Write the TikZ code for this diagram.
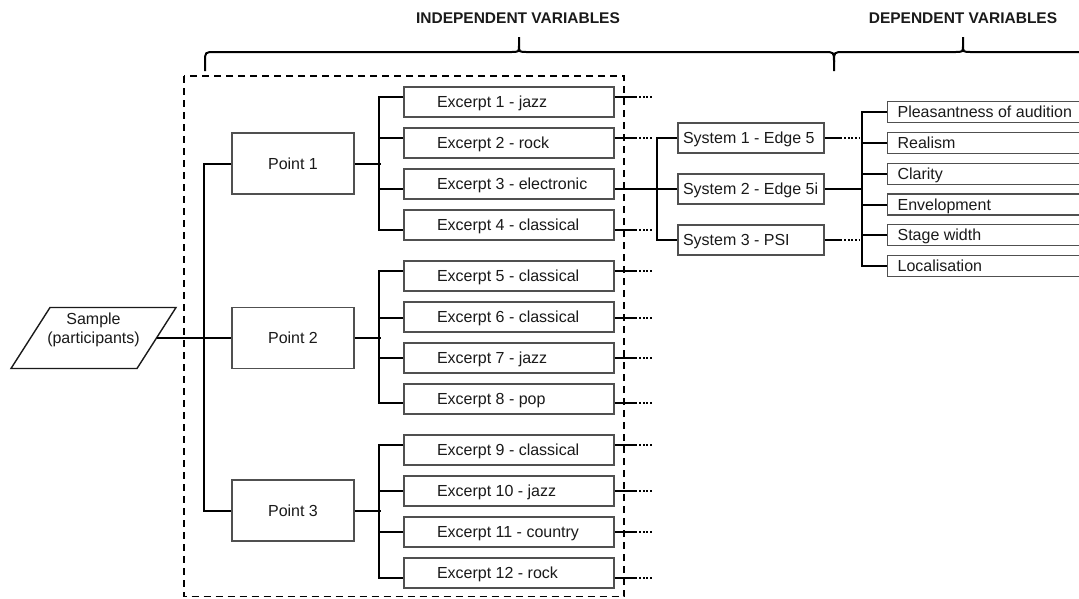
\documentclass[tikz,border=0pt]{standalone}
\usepackage{fontspec}
\setmainfont{Liberation Sans}
\usetikzlibrary{calc}
\definecolor{ink}{HTML}{1A1A1A}
\definecolor{edge}{HTML}{505050}
% left-aligned label of fixed width with a left indent
\newcommand{\padl}[3]{\makebox[#1][l]{\hspace{#2}#3}}
\begin{document}
\begin{tikzpicture}[x=1pt,y=-1pt,
  box/.style={draw=edge, line width=1.2pt, fill=white, text=ink, inner sep=0pt,
    font=\fontsize{16}{19}\selectfont, text height=11.5pt, text depth=0pt},
  exbox/.style={box, minimum width=210pt, minimum height=30pt},
  ptbox/.style={box, minimum width=122pt, minimum height=61pt},
  sysbox/.style={box, minimum width=146pt, minimum height=30pt},
  depbox/.style={box, minimum height=21pt, anchor=west},
  conn/.style={line width=2pt, black},
  dots/.style={line width=1.8pt, black, dash pattern=on 1.8pt off 1.8pt},
  frame/.style={line width=1.7pt, black, dash pattern=on 7pt off 5pt},
  brace/.style={line width=2pt, black, line cap=butt},
  title/.style={font=\fontsize{15.5}{18}\selectfont\bfseries, text=ink, anchor=base}
]
\useasboundingbox (0,0) rectangle (1079,598);

% headings and braces
\node[title] (ti) at (518,23) {INDEPENDENT VARIABLES};
\node[title] (td) at (963,23) {DEPENDENT VARIABLES};
\draw[brace] (205,71) -- (205,62) .. controls (205,52) .. (215,52) -- (511,52)
  .. controls (519,52) .. (519,45) -- (519,37)
  (519,45) .. controls (519,52) .. (527,52) -- (824,52)
  .. controls (834,52) .. (834,62) -- (834,71);
\draw[brace] (834,62) .. controls (834,52) .. (844,52) -- (955,52)
  .. controls (963,52) .. (963,45) -- (963,37)
  (963,45) .. controls (963,52) .. (971,52) -- (1090,52);

% dashed frame round the independent variables
\draw[frame] (184,76) rectangle (624,596.5);

% sample: parallelogram with its label
\draw[draw=ink, line width=1.4pt, fill=white, line join=miter]
  (11,368.5) -- (50,307.5) -- (176,307.5) -- (137,368.5) -- cycle;
\node[text=ink, inner sep=0pt, align=center, font=\fontsize{16}{19}\selectfont,
  text height=11.5pt, text depth=0pt] (sample) at (93.5,338) {Sample\\(participants)};
\coordinate (sampleout) at (156.5,338);

% points
\node[ptbox] (p1) at (293,163.5) {Point 1};
\node[ptbox] (p2) at (293,338) {Point 2};
\node[ptbox] (p3) at (293,510.5) {Point 3};

% excerpts: index / centre y / label / offset of the connector line
\foreach \i/\y/\t/\o in {1/102/jazz/-5, 2/143/rock/-5, 3/184/electronic/5, 4/225/classical/5,
  5/276/classical/-5, 6/317/classical/1, 7/358/jazz/0, 8/399/pop/4,
  9/450/classical/-5, 10/491/jazz/0, 11/532/country/0, 12/573/rock/5} {
  \node[exbox] (e\i) at (509,\y) {\padl{210pt}{33pt}{Excerpt \i\ - \t}};
  \coordinate (a\i) at ($(e\i.west)+(0,\o)$);
  \coordinate (b\i) at ($(e\i.east)+(0,\o)$);
}

% systems
\node[sysbox] (s1) at (751,138) {\padl{146pt}{5pt}{System 1 - Edge 5}};
\node[sysbox] (s2) at (751,189) {\padl{146pt}{5pt}{System 2 - Edge 5i}};
\node[sysbox] (s3) at (751,240) {\padl{146pt}{5pt}{System 3 - PSI}};

% dependent variables
\node[depbox] (v1) at (887,112) {\padl{200pt}{10pt}{Pleasantness of audition}};
\node[depbox] (v2) at (887,143) {\padl{200pt}{10pt}{Realism}};
\node[depbox] (v3) at (887,174) {\padl{200pt}{10pt}{Clarity}};
\node[depbox] (v4) at (887,204.5) {\padl{200pt}{10pt}{Envelopment}};
\node[depbox] (v5) at (887,235) {\padl{200pt}{10pt}{Stage width}};
\node[depbox] (v6) at (887,266) {\padl{200pt}{10pt}{Localisation}};

% sample to points
\draw[conn] (sampleout) -- (p2.west);
\draw[conn] (p1.west) -- ++(-27,0) |- (p3.west);

% points to excerpts
\draw[conn] (p1.east) -- ++(26,0);
\draw[conn] (p2.east) -- ++(26,0);
\draw[conn] (p3.east) -- ++(26,0);
\draw[conn] (a1) -- ++(-24,0) |- (a4);
\draw[conn] (a5) -- ++(-24,0) |- (a8);
\draw[conn] (a9) -- ++(-24,0) |- (a12);
\foreach \i in {2,3,6,7,10,11} { \draw[conn] (a\i) -- ++(-24,0); }

% excerpts onwards
\foreach \i in {1,2,4,5,6,7,8,9,10,11,12} {
  \draw[conn] (b\i) -- ++(21,0) coordinate (c\i);
  \draw[dots] (c\i) -- ++(17,0);
}
\draw[conn] (b3) -- (s2.west);
\draw[conn] (s1.west) -- ++(-20,0) |- (s3.west);

% systems to dependent variables
\draw[conn] (s1.east) -- ++(16,0) coordinate (d1);
\draw[dots] (d1) -- ++(21,0);
\draw[conn] (s3.east) -- ++(16,0) coordinate (d3);
\draw[dots] (d3) -- ++(21,0);
\draw[conn] (s2.east) -- ++(38,0);
\draw[conn] (v1.west) -- ++(-25,0) |- (v6.west);
\foreach \i in {2,3,4,5} { \draw[conn] (v\i.west) -- ++(-25,0); }
\end{tikzpicture}
\end{document}
